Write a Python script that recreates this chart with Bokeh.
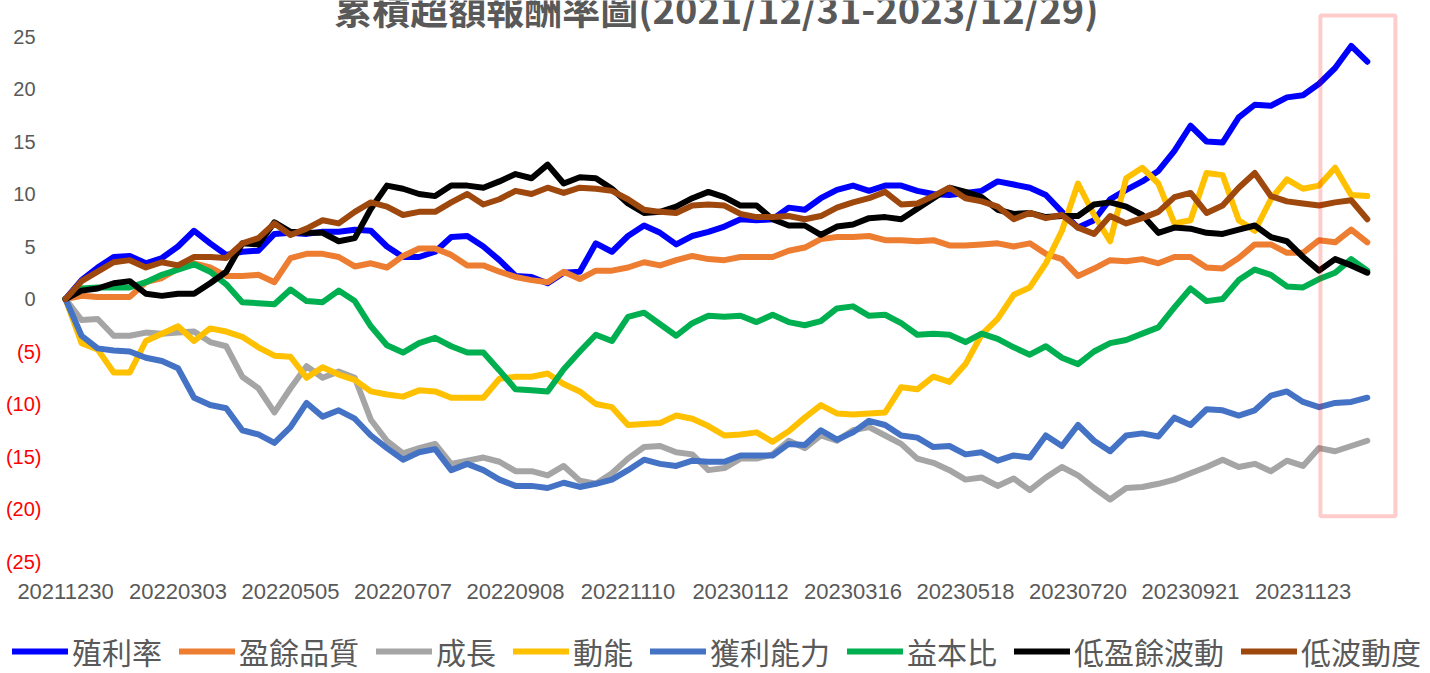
from bokeh.plotting import figure
from bokeh.models import ColumnDataSource, Legend, LegendItem, Range1d
from bokeh.embed import file_html
from bokeh.resources import INLINE
from bokeh.core.properties import value

# ---------------- data ----------------
TITLE = "累積超額報酬率圖(2021/12/31-2023/12/29)"
TICK_LABELS = ["20211230", "20220303", "20220505", "20220707", "20220908", "20221110",
               "20230112", "20230316", "20230518", "20230720", "20230921", "20231123"]
TICK_INTERVAL = 42          # trading days between category labels
N_DAYS = 487                # trading days in the window
STEP = 6                    # sampled every 6 trading days

SERIES_NAMES = ["殖利率", "盈餘品質", "成長", "動能", "獲利能力", "益本比", "低盈餘波動", "低波動度"]
COLORS = ["#0000FF", "#ED7D31", "#A5A5A5", "#FFC000", "#4472C4", "#00B050", "#000000", "#9E480E"]

dividend_yield = [
    0, 1.8, 3.0, 4.0, 4.1, 3.4, 3.9, 5.0, 6.5, 5.3,
    4.2, 4.5, 4.6, 6.2, 6.3, 6.2, 6.4, 6.4, 6.6, 6.5,
    5.0, 4.0, 4.0, 4.5, 5.9, 6.0, 5.0, 3.7, 2.2, 2.1,
    1.5, 2.5, 2.6, 5.3, 4.5, 6.0, 7.0, 6.3, 5.2, 6.0,
    6.4, 6.9, 7.6, 7.5, 7.6, 8.7, 8.5, 9.6, 10.4, 10.8,
    10.3, 10.8, 10.8, 10.3, 10.0, 9.9, 10.1, 10.3, 11.2, 10.9,
    10.6, 9.9, 8.3, 6.8, 7.5, 9.5, 10.4, 11.2, 12.2, 14.1,
    16.5, 15.0, 14.9, 17.3, 18.5, 18.4, 19.2, 19.4, 20.5, 22.0,
    24.1, 22.6]
earnings_quality = [
    0, 0.3, 0.2, 0.2, 0.2, 1.6, 2.0, 2.9, 3.4, 3.0,
    2.2, 2.2, 2.3, 1.6, 3.9, 4.3, 4.3, 4.0, 3.1, 3.4,
    3.0, 4.1, 4.8, 4.8, 4.2, 3.2, 3.2, 2.6, 2.1, 1.8,
    1.6, 2.6, 1.9, 2.7, 2.7, 3.0, 3.5, 3.2, 3.7, 4.1,
    3.8, 3.7, 4.0, 4.0, 4.0, 4.6, 4.9, 5.7, 5.9, 5.9,
    6.0, 5.6, 5.6, 5.5, 5.6, 5.1, 5.1, 5.2, 5.3, 5.0,
    5.3, 4.3, 3.8, 2.2, 2.9, 3.7, 3.6, 3.8, 3.4, 4.0,
    4.0, 3.0, 2.9, 3.9, 5.2, 5.2, 4.4, 4.4, 5.6, 5.4,
    6.6, 5.4]
growth = [
    0, -2.0, -1.9, -3.5, -3.5, -3.2, -3.3, -3.2, -3.1, -4.1,
    -4.5, -7.4, -8.5, -10.8, -8.5, -6.4, -7.5, -6.9, -7.5, -11.5,
    -13.5, -14.7, -14.2, -13.8, -15.7, -15.4, -15.1, -15.5, -16.4, -16.4,
    -16.8, -15.9, -17.3, -17.6, -16.6, -15.2, -14.1, -14.0, -14.6, -14.8,
    -16.3, -16.1, -15.2, -15.2, -14.8, -13.5, -14.2, -13.0, -13.5, -12.5,
    -12.2, -13.0, -13.8, -15.2, -15.6, -16.3, -17.2, -17.0, -17.8, -17.1,
    -18.2, -17.0, -16.0, -16.8, -18.0, -19.1, -18.0, -17.9, -17.6, -17.2,
    -16.6, -16.0, -15.3, -16.0, -15.7, -16.4, -15.4, -15.9, -14.2, -14.5,
    -14.0, -13.5]
momentum = [
    0, -4.2, -4.8, -7.0, -7.0, -4.0, -3.3, -2.6, -4.0, -2.8,
    -3.1, -3.6, -4.6, -5.4, -5.5, -7.5, -6.5, -7.2, -7.7, -8.8,
    -9.1, -9.3, -8.7, -8.8, -9.4, -9.4, -9.4, -7.6, -7.4, -7.4,
    -7.1, -8.1, -8.8, -10.0, -10.3, -12.0, -11.9, -11.8, -11.1, -11.4,
    -12.1, -13.0, -12.9, -12.7, -13.6, -12.6, -11.3, -10.1, -10.9, -11.0,
    -10.9, -10.8, -8.4, -8.6, -7.4, -7.9, -6.2, -3.4, -1.9, 0.4,
    1.1, 3.4, 6.5, 11.0, 8.0, 5.5, 11.5, 12.5, 11.0, 7.2,
    7.5, 12.0, 11.8, 7.5, 6.5, 9.5, 11.4, 10.5, 10.8, 12.5,
    9.9, 9.8]
profitability = [
    0, -3.5, -4.7, -4.9, -5.0, -5.6, -5.9, -6.6, -9.4, -10.1,
    -10.4, -12.5, -12.9, -13.7, -12.2, -9.9, -11.2, -10.6, -11.4, -13.0,
    -14.2, -15.3, -14.6, -14.3, -16.3, -15.7, -16.3, -17.2, -17.8, -17.8,
    -18.0, -17.5, -17.9, -17.6, -17.2, -16.3, -15.3, -15.7, -15.9, -15.4,
    -15.5, -15.5, -14.9, -14.9, -14.9, -13.8, -13.9, -12.5, -13.4, -12.7,
    -11.6, -12.0, -13.0, -13.2, -14.1, -14.0, -14.8, -14.6, -15.4, -14.9,
    -15.1, -13.0, -14.0, -12.0, -13.5, -14.5, -13.0, -12.8, -13.1, -11.3,
    -12.0, -10.5, -10.6, -11.1, -10.6, -9.2, -8.8, -9.8, -10.3, -9.9,
    -9.8, -9.4]
earnings_yield = [
    0, 1.0, 1.1, 1.1, 1.1, 1.6, 2.3, 2.8, 3.3, 2.6,
    1.4, -0.3, -0.4, -0.5, 0.9, -0.2, -0.3, 0.8, -0.2, -2.6,
    -4.4, -5.1, -4.2, -3.7, -4.5, -5.1, -5.1, -6.8, -8.6, -8.7,
    -8.8, -6.7, -5.0, -3.4, -4.0, -1.7, -1.3, -2.4, -3.5, -2.3,
    -1.6, -1.7, -1.6, -2.2, -1.5, -2.2, -2.5, -2.1, -0.9, -0.7,
    -1.6, -1.5, -2.3, -3.4, -3.3, -3.4, -4.1, -3.3, -3.8, -4.6,
    -5.3, -4.5, -5.6, -6.2, -5.0, -4.2, -3.9, -3.3, -2.7, -0.8,
    1.0, -0.2, 0.0, 1.8, 2.8, 2.3, 1.2, 1.1, 1.9, 2.5,
    3.8, 2.7]
low_earnings_vol = [
    0, 0.8, 1.0, 1.5, 1.7, 0.5, 0.3, 0.5, 0.5, 1.5,
    2.6, 5.3, 5.2, 7.3, 6.4, 6.3, 6.3, 5.5, 5.8, 8.6,
    10.8, 10.5, 10.0, 9.8, 10.8, 10.8, 10.6, 11.2, 11.9, 11.5,
    12.8, 11.0, 11.6, 11.5, 10.5, 9.1, 8.2, 8.3, 8.8, 9.6,
    10.2, 9.7, 8.9, 8.9, 7.6, 7.0, 7.0, 6.1, 6.9, 7.1,
    7.7, 7.8, 7.6, 8.6, 9.6, 10.6, 10.2, 9.7, 8.5, 8.1,
    8.2, 7.8, 7.9, 7.9, 9.0, 9.2, 8.8, 8.0, 6.3, 6.8,
    6.7, 6.3, 6.2, 6.6, 7.0, 5.9, 5.5, 4.0, 2.7, 3.8,
    3.2, 2.5]
low_volatility = [
    0, 1.7, 2.6, 3.5, 3.7, 3.0, 3.5, 3.2, 4.0, 4.0,
    3.9, 5.3, 5.8, 7.2, 6.1, 6.7, 7.5, 7.2, 8.3, 9.2,
    8.8, 8.0, 8.3, 8.3, 9.2, 10.0, 9.0, 9.5, 10.3, 10.0,
    10.6, 10.1, 10.6, 10.5, 10.3, 9.5, 8.5, 8.3, 8.2, 8.9,
    9.0, 8.9, 8.1, 7.8, 7.8, 7.9, 7.6, 7.9, 8.7, 9.2,
    9.6, 10.2, 9.0, 9.1, 9.8, 10.6, 9.6, 9.3, 8.8, 7.6,
    8.2, 7.7, 8.0, 6.8, 6.2, 7.9, 7.2, 7.7, 8.3, 9.7,
    10.1, 8.2, 8.9, 10.6, 12.0, 9.8, 9.3, 9.1, 8.9, 9.2,
    9.4, 7.6]

SERIES = [dividend_yield, earnings_quality, growth, momentum,
          profitability, earnings_yield, low_earnings_vol, low_volatility]

Y_TICKS = [25, 20, 15, 10, 5, 0, -5, -10, -15, -20, -25]

# highlighted recent window (category index range and value range)
HL_LEFT, HL_RIGHT, HL_TOP, HL_BOTTOM = 468.5, 496.5, 27.0, -20.7

# ---------------- layout ----------------
W, H = 1430, 673
PX_PER_DAY = 112.5 / TICK_INTERVAL      # horizontal scale
PX_PER_UNIT = 10.5                      # vertical scale
ORIGIN_X = 65                           # pixel of first category
TOP_Y = 36                              # pixel of the +25 gridline
x0 = -ORIGIN_X / PX_PER_DAY
y1 = 25 + TOP_Y / PX_PER_UNIT

GRAY = "#595959"
NUM_FONT = "Liberation Sans"
CJK_FONT = "Noto Sans CJK TC"

p = figure(width=W, height=H, output_backend="svg", toolbar_location=None,
           x_range=Range1d(x0, x0 + W / PX_PER_DAY),
           y_range=Range1d(y1 - H / PX_PER_UNIT, y1),
           x_axis_location=None, y_axis_location=None, min_border=0,
           outline_line_color=None, background_fill_color="white",
           border_fill_color="white")
p.xgrid.visible = False
p.ygrid.visible = False

xs = [i * STEP for i in range(len(dividend_yield))]
items = []
for name, col, ys in zip(SERIES_NAMES, COLORS, SERIES):
    src = ColumnDataSource(dict(x=xs, y=ys))
    r = p.line("x", "y", source=src, line_color=col, line_width=6,
               line_join="round", line_cap="round")
    items.append(LegendItem(label=name, renderers=[r]))

p.quad(left=[HL_LEFT], right=[HL_RIGHT], top=[HL_TOP], bottom=[HL_BOTTOM],
       fill_color=None, line_color="#FF0000", line_alpha=0.2, line_width=4)

# value-axis labels (accounting style: negatives red, in parentheses)
pos_t = [t for t in Y_TICKS if t >= 0]
neg_t = [t for t in Y_TICKS if t < 0]
p.text(x=[0] * len(pos_t), y=pos_t, text=[str(t) for t in pos_t],
       x_offset=-30, text_align="right", text_baseline="middle",
       text_font=value(NUM_FONT), text_font_size="20px", text_color=GRAY)
p.text(x=[0] * len(neg_t), y=neg_t, text=["(%d)" % -t for t in neg_t],
       x_offset=-24, text_align="right", text_baseline="middle",
       text_font=value(NUM_FONT), text_font_size="20px", text_color="#FF0000")

# category-axis labels
tick_pos = [i * TICK_INTERVAL for i in range(len(TICK_LABELS))]
p.text(x=tick_pos, y=[Y_TICKS[-1]] * len(tick_pos), text=TICK_LABELS,
       y_offset=30, text_align="center", text_baseline="middle",
       text_font=value(NUM_FONT), text_font_size="22px", text_color=GRAY)

# title (its top is cut off in the original)
p.text(x=[(N_DAYS - 1) / 2], y=[Y_TICKS[0]], text=[TITLE], y_offset=-29,
       text_align="center", text_baseline="alphabetic",
       text_font=value(CJK_FONT), text_font_style="bold",
       text_font_size="38px", text_color=GRAY)

legend = Legend(items=items, orientation="horizontal", location=(12, 0),
                glyph_width=56, glyph_height=30, label_standoff=4, spacing=17,
                padding=0, margin=0, label_text_font=CJK_FONT,
                label_text_font_size="30px", label_text_color=GRAY,
                border_line_color=None, background_fill_alpha=0)
p.add_layout(legend)

open("out.html", "w").write(file_html(p, INLINE))
